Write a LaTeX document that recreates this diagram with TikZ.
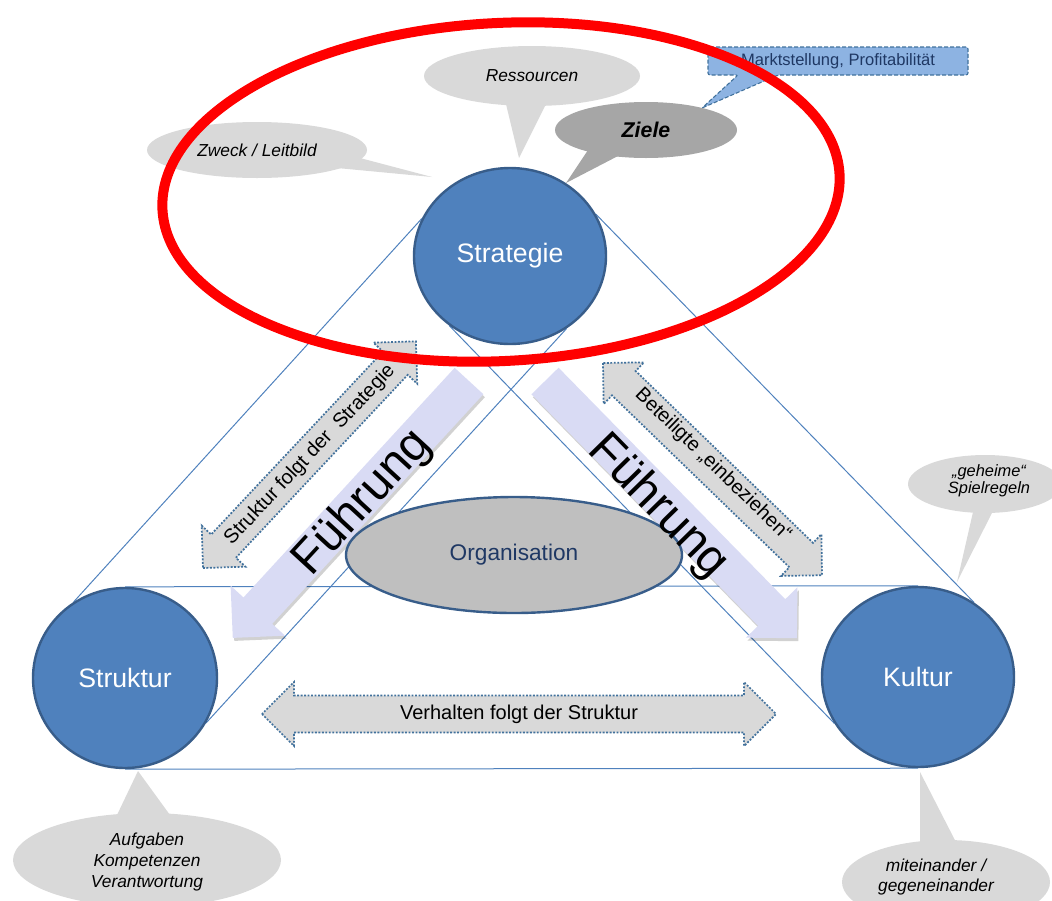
\documentclass[tikz,border=0pt]{standalone}
\usepackage{fontspec}
\setmainfont{Liberation Sans}
\usetikzlibrary{shapes.geometric,backgrounds}

\definecolor{circfill}{HTML}{4F81BD}
\definecolor{circline}{HTML}{385D8A}
\definecolor{lav}{HTML}{D9DBF4}
\definecolor{lgray}{HTML}{D9D9D9}
\definecolor{dgray}{HTML}{A6A6A6}
\definecolor{orgfill}{HTML}{BFBFBF}
\definecolor{dotline}{HTML}{41719C}
\definecolor{mblue}{HTML}{8DB3E2}
\definecolor{navy}{HTML}{1F3864}

\newcommand{\mkdblarrow}[5]{%
  \begin{scope}[shift={#1}, rotate=#2]
    \path[darrow] (0,0) -- (#4,#4) -- (#4,#5) -- ({#3-#4},#5) -- ({#3-#4},#4) -- (#3,0)
      -- ({#3-#4},-#4) -- ({#3-#4},-#5) -- (#4,-#5) -- (#4,-#4) -- cycle;
  \end{scope}}

\newcommand{\mkfarrow}[5]{%
  \begin{scope}[shift={(1.5,3)}]
  \begin{scope}[shift={#1}, rotate=#2]
    \fill[black, opacity=0.18] (0,#5) -- ({#3-#4},#5) -- ({#3-#4},#4) -- (#3,0)
      -- ({#3-#4},-#4) -- ({#3-#4},-#5) -- (0,-#5) -- cycle;
  \end{scope}
  \end{scope}
  \begin{scope}[shift={#1}, rotate=#2]
    \fill[lav] (0,#5) -- ({#3-#4},#5) -- ({#3-#4},#4) -- (#3,0)
      -- ({#3-#4},-#4) -- ({#3-#4},-#5) -- (0,-#5) -- cycle;
  \end{scope}}

\begin{document}
\begin{tikzpicture}[x=0.75pt,y=-0.75pt,
  circ/.style={ellipse, fill=circfill, draw=circline, line width=1.8pt, text=white,
    font=\fontsize{20}{24}\selectfont, inner sep=0pt},
  tri/.style={draw=circfill, line width=0.75pt},
  bub/.style={ellipse, fill=lgray, inner sep=0pt},
  btext/.style={font=\itshape\fontsize{13}{15.5}\selectfont, align=center, text=black},
  darrow/.style={fill=lgray, draw=dotline, line width=1.3pt, dash pattern=on 1.4pt off 1.2pt},
  atext/.style={font=\fontsize{15}{18}\selectfont, text=black},
  ftext/.style={font=\fontsize{36}{40}\selectfont, text=black},
  orgnode/.style={ellipse, fill=orgfill, draw=circline, line width=1.8pt, text=navy,
    font=\fontsize{17}{20}\selectfont, inner sep=0pt}
]
\useasboundingbox (0,0) rectangle (1052,900);
\clip (0,0) rectangle (1052,900);

% Fuehrung arrows
\mkfarrow{(469,381)}{227.4}{349}{37}{19.5}
\mkfarrow{(545,381)}{-45.6}{360}{36}{19}

% Organisation
\node[orgnode, minimum width=252pt, minimum height=87pt] (org) at (514,555) {Organisation};

% double arrows
\mkdblarrow{(203,568)}{46.8}{311}{30}{17}
\mkdblarrow{(603,363)}{-44.1}{305}{29}{17}
\mkdblarrow{(262,714)}{0}{514}{32}{18.5}

\node[atext, rotate=46.8] (sfs) at (310,455) {Struktur folgt der\ \ Strategie};
\node[atext, rotate=-44.1] (bet) at (713,465) {Beteiligte „einbeziehen“};
\node[atext] (vfs) at (519,714) {Verhalten folgt der Struktur};

% circles
\node[circ, minimum width=144pt, minimum height=132pt] (strat) at (510,256) {Strategie};
\node[circ, minimum width=138pt, minimum height=135pt] (strukt) at (125,678) {Struktur};
\node[circ, minimum width=144pt, minimum height=135pt] (kultur) at (918,677) {Kultur};

% triangle lines
\begin{scope}[on background layer]
  \draw[tri] (strat.157) -- (strukt.124);
  \draw[tri] (strat.26) -- (kultur.53);
  \draw[tri] (strukt.north) -- (kultur.north);
  \draw[tri] (strukt.south) -- (kultur.south);
  \draw[tri] (strat.229) -- (kultur.209);
  \draw[tri] (strat.308) -- (strukt.331);
\end{scope}

% callouts
\fill[lgray] (505,100) -- (519,158) -- (548,100) -- cycle;
\node[bub, minimum width=162pt, minimum height=45pt, btext] (res) at (532,76) {Ressourcen};

\fill[lgray] (337,168) -- (432,177) -- (360,158) -- cycle;
\node[bub, minimum width=165pt, minimum height=42pt, btext] (zweck) at (257,150) {Zweck / Leitbild};

\fill[dgray] (588,150) -- (566,183) -- (618,156) -- cycle;
\node[ellipse, fill=dgray, inner sep=0pt, minimum width=136.5pt, minimum height=42pt,
  font=\bfseries\itshape\fontsize{16}{19}\selectfont] (ziele) at (646,130) {Ziele};

\path[fill=mblue, draw=dotline, line width=0.8pt, dash pattern=on 3pt off 1.5pt, rounded corners=1.5pt]
  (708,47) -- (968,47) -- (968,75) -- (778,75) -- (702,108) -- (738,75) -- (708,75) -- cycle;
\node[font=\fontsize{12.4}{14}\selectfont, text=navy] (mkt) at (838,61) {Marktstellung, Profitabilität};

\fill[lgray] (973,512) -- (957,582) -- (995,507) -- cycle;
\node[bub, minimum width=115.5pt, minimum height=43.5pt] (gehE) at (985,484) {};
\node[btext, font=\itshape\fontsize{12.3}{13}\selectfont] (gehT) at (989,481) {„geheime“\\Spielregeln};

\fill[lgray] (117,815) -- (138,771) -- (170,815) -- cycle;
\node[bub, minimum width=201pt, minimum height=70.5pt] (aufE) at (147,860) {};
\node[btext] (aufT) at (147,862) {Aufgaben\\Kompetenzen\\Verantwortung};

\fill[lgray] (920,850) -- (920,772) -- (960,850) -- cycle;
\node[bub, minimum width=156pt, minimum height=63pt] (mitE) at (946,882) {};
\node[btext, font=\itshape\fontsize{13}{14.3}\selectfont] (mitT) at (936,877) {miteinander /\\gegeneinander};

% Fuehrung texts
\node[ftext, rotate=47.4] (f1) at (363,503) {Führung};
\node[ftext, rotate=-45.6] (f2) at (658,507) {Führung};

% red ellipse
\draw[red, line width=7.5pt, rotate around={3:(501,192)}] (501,192) ellipse [x radius=339, y radius=169];
\end{tikzpicture}
\end{document}
